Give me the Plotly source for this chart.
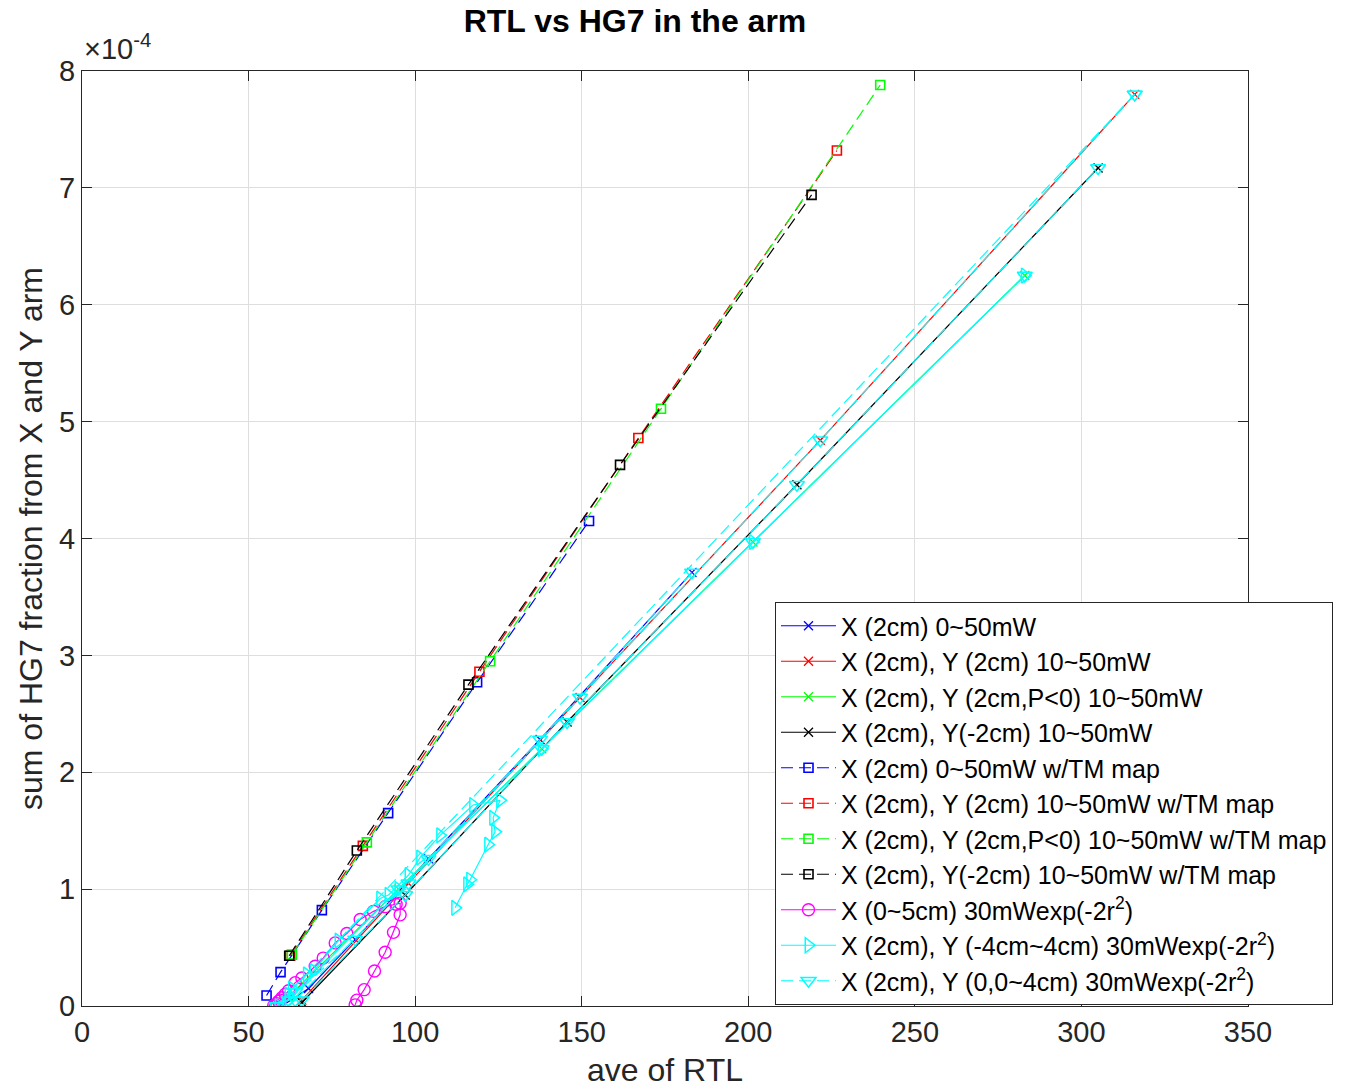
import plotly.graph_objects as go

SCALE = 1e-4  # y values below are in units of 1e-4

# ---- series without TM map (solid lines, x markers) ----
bx_x = [60, 68, 82, 104, 137.5, 183.1]
bx_y = [0.0, 0.15, 0.57, 1.26, 2.28, 3.71]
rx_x = [66, 98, 149.5, 221.6, 316]
rx_y = [0.05, 1.05, 2.64, 4.84, 7.80]
gx_x = [62, 95, 138, 201.4, 283]
gx_y = [0.08, 1.00, 2.20, 3.97, 6.25]
kx_x = [66, 97, 145.6, 214.6, 305]
kx_y = [0.03, 0.95, 2.43, 4.46, 7.17]

# ---- series with TM map (dashed lines, square markers) ----
bs_x = [55.4, 59.6, 72, 91.9, 118.6, 152.2]
bs_y = [0.09, 0.29, 0.82, 1.65, 2.77, 4.15]
rs_x = [62.5, 84.3, 119.3, 167, 226.6]
rs_y = [0.43, 1.37, 2.86, 4.86, 7.32]
gs_x = [63, 85.5, 122.5, 173.8, 239.6]
gs_y = [0.44, 1.40, 2.95, 5.11, 7.88]
ks_x = [62.2, 82.5, 116, 161.5, 219]
ks_y = [0.43, 1.33, 2.75, 4.63, 6.94]

# ---- X (0~5cm) 30mW exp(-2r^2) ----
mo_x = [57.5, 58, 58.5, 59, 59.5, 60, 61, 62, 64, 66, 70, 72.4, 76, 79.5, 83.5,
        87.5, 91, 94.3, 95.5, 95.5, 93.5, 91, 87.8, 84.7, 82.5, 82]
mo_y = [0.00, 0.01, 0.02, 0.04, 0.05, 0.07, 0.10, 0.13, 0.20, 0.24, 0.34, 0.41, 0.54,
        0.62, 0.74, 0.81, 0.85, 0.87, 0.88, 0.78, 0.63, 0.46, 0.30, 0.14, 0.05, 0.01]

# ---- X (2cm), Y (-4cm~4cm) 30mW exp(-2r^2) ----
cr_x = [59, 62, 63, 67.5, 69.5, 77, 89.5, 92, 98, 101.5, 107.5, 117.4, 125.5, 123.4,
        124, 121.9, 116.5, 115.6, 112, None,
        62, 95, 138, 201.4, 283]
cr_y = [0.00, 0.10, 0.15, 0.27, 0.30, 0.56, 0.92, 0.95, 1.12, 1.27, 1.46, 1.72, 1.76,
        1.61, 1.49, 1.38, 1.08, 1.04, 0.84, None,
        0.05, 1.00, 2.20, 3.97, 6.25]

# ---- X (2cm), Y (0,0~4cm) 30mW exp(-2r^2) ----
cv_x = [64, 98, 149.5, 221.6, 316, None,
        66, 97, 145.6, 214.6, 305, None,
        64, 95, 138, 201.4, 283, None,
        62, 82, 104, 137.5, 183.1, None,
        58.4, 316]
cv_y = [0.05, 1.05, 2.64, 4.84, 7.80, None,
        0.05, 0.95, 2.43, 4.46, 7.17, None,
        0.12, 1.00, 2.20, 3.97, 6.25, None,
        0.05, 0.57, 1.26, 2.28, 3.71, None,
        0.00, 7.80]

legend_names = [
    "X (2cm) 0~50mW",
    "X (2cm), Y (2cm) 10~50mW",
    "X (2cm), Y (2cm,P<0) 10~50mW",
    "X (2cm), Y(-2cm) 10~50mW",
    "X (2cm) 0~50mW w/TM map",
    "X (2cm), Y (2cm) 10~50mW w/TM map",
    "X (2cm), Y (2cm,P<0) 10~50mW w/TM map",
    "X (2cm), Y(-2cm) 10~50mW w/TM map",
    "X (0~5cm) 30mWexp(-2r<sup>2</sup>)",
    "X (2cm), Y (-4cm~4cm) 30mWexp(-2r<sup>2</sup>)",
    "X (2cm), Y (0,0~4cm) 30mWexp(-2r<sup>2</sup>)",
]


def sc(v):
    return [None if a is None else a * SCALE for a in v]


fig = go.Figure()
DASH = "12px,6px"


def add(x, y, name, color, symbol, size, dash="solid", mlw=1.3):
    fig.add_trace(go.Scatter(
        x=x, y=sc(y), name=name, mode="lines+markers",
        line=dict(color=color, width=1.2, dash=dash),
        marker=dict(symbol=symbol, size=size, color=color,
                    line=dict(color=color, width=mlw)),
        connectgaps=False,
    ))


add(bx_x, bx_y, legend_names[0], "#0000ff", "x-thin", 9)
add(rx_x, rx_y, legend_names[1], "#ff0000", "x-thin", 9)
add(gx_x, gx_y, legend_names[2], "#00ff00", "x-thin", 9)
add(kx_x, kx_y, legend_names[3], "#000000", "x-thin", 9)
add(bs_x, bs_y, legend_names[4], "#0000ff", "square-open", 9, DASH, 1.6)
add(rs_x, rs_y, legend_names[5], "#ff0000", "square-open", 9, DASH, 1.6)
add(gs_x, gs_y, legend_names[6], "#00ff00", "square-open", 9, DASH, 1.6)
add(ks_x, ks_y, legend_names[7], "#000000", "square-open", 9, DASH, 1.6)
add(mo_x, mo_y, legend_names[8], "#ff00ff", "circle-open", 12, "solid", 1.4)
add(cr_x, cr_y, legend_names[9], "#00ffff", "triangle-right-open", 13, "solid", 1.5)
add(cv_x, cv_y, legend_names[10], "#00ffff", "triangle-down-open", 13, DASH, 1.5)

FONT = "Liberation Sans, Arial, Helvetica, sans-serif"
tick_y = [0, 1, 2, 3, 4, 5, 6, 7, 8]

fig.update_layout(
    width=1364, height=1089,
    margin=dict(l=82, r=116, t=71, b=83, autoexpand=False),
    paper_bgcolor="white", plot_bgcolor="white",
    font=dict(family=FONT, size=30, color="#262626"),
    title=dict(text="<b>RTL vs HG7 in the arm</b>", x=635 / 1364, xanchor="center",
               y=1 - 21 / 1089, yanchor="middle",
               font=dict(size=32, color="#000000", family=FONT)),
    showlegend=True,
    legend=dict(x=(775 - 82) / 1166, xanchor="left", y=(1006 - 602) / 935, yanchor="top",
                bgcolor="white", bordercolor="#262626", borderwidth=1,
                font=dict(size=25, color="#000000", family=FONT),
                tracegroupgap=0, itemwidth=55),
    xaxis=dict(range=[0, 350], tickvals=[0, 50, 100, 150, 200, 250, 300, 350],
               automargin=False,
               showgrid=True, gridcolor="#dedede", gridwidth=1,
               showline=True, linecolor="#262626", linewidth=1, mirror="ticks",
               ticks="inside", ticklen=10, tickcolor="#262626", zeroline=False,
               tickfont=dict(size=29, color="#262626"),
               title=dict(text="ave of RTL", font=dict(size=32, color="#262626"), standoff=11)),
    yaxis=dict(range=[0, 8 * SCALE], tickvals=[t * SCALE for t in tick_y],
               ticktext=[str(t) for t in tick_y], automargin=False,
               showgrid=True, gridcolor="#dedede", gridwidth=1,
               showline=True, linecolor="#262626", linewidth=1, mirror="ticks",
               ticks="inside", ticklen=10, tickcolor="#262626", zeroline=False,
               tickfont=dict(size=29, color="#262626"),
               title=dict(text="sum of HG7 fraction from X and Y arm",
                          font=dict(size=32, color="#262626"), standoff=6)),
)

fig.add_annotation(text="\u00d710<sup>-4</sup>", xref="paper", yref="paper",
                   x=0, y=1, xanchor="left", yanchor="bottom", yshift=4, xshift=0,
                   showarrow=False, font=dict(size=29, color="#262626", family=FONT))

fig.write_html("out.html")
